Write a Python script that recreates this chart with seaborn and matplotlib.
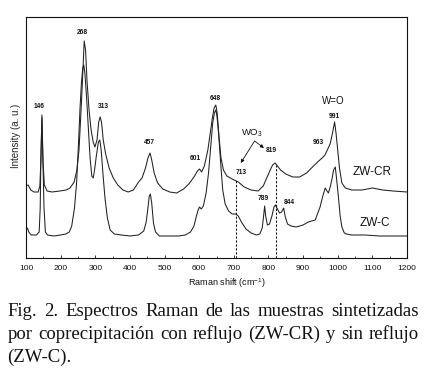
import numpy as np
import pandas as pd
import matplotlib
matplotlib.use("Agg")
import matplotlib.pyplot as plt
import seaborn as sns

# ---------------- data ----------------
cr_wn = [100, 106, 114, 123, 135, 140, 143, 146, 149, 153, 161, 175, 198, 216, 227, 239, 247, 253,
         259, 264, 268, 272, 276, 282, 288, 294, 299, 305, 310, 314, 318, 323, 330, 340, 352, 365,
         380, 395, 410, 425, 435, 445, 452, 458, 463, 470, 480, 495, 515, 535, 555, 570, 585, 595,
         601, 607, 615, 625, 632, 638, 643, 648, 652, 657, 663, 670, 680, 695, 713, 730, 750, 770,
         785, 795, 805, 812, 819, 826, 835, 850, 870, 890, 910, 930, 945, 955, 963, 970, 978, 985,
         991, 995, 1000, 1005, 1012, 1022, 1040, 1070, 1100, 1130, 1160, 1200]
cr_int = [72, 73, 68, 66, 66, 72, 98, 143, 98, 73, 67, 66, 67, 68, 70, 76, 88, 108,
          148, 185, 217, 208, 178, 148, 128, 116, 111, 118, 136, 141, 136, 118, 104, 90, 80, 73,
          68, 66, 68, 76, 80, 90, 100, 105, 98, 85, 75, 69, 66, 65, 69, 74, 81, 87,
          89, 86, 92, 108, 125, 140, 150, 153, 145, 122, 100, 88, 82, 79, 76, 71, 68, 67,
          72, 80, 88, 93, 95, 92, 88, 84, 81, 81, 85, 92, 97, 100, 103, 108, 114, 125,
          136, 125, 108, 90, 75, 70, 68, 68, 70, 68, 67, 66]

c_wn = [100, 104, 108, 115, 130, 138, 141, 143, 146, 149, 152, 156, 162, 180, 200, 215, 225, 232,
        240, 246, 251, 256, 260, 264, 267, 270, 275, 280, 285, 290, 294, 298, 303, 309, 313, 317,
        322, 328, 335, 343, 355, 375, 400, 425, 440, 447, 452, 456, 459, 463, 468, 474, 485, 510,
        540, 560, 575, 585, 592, 597, 601, 606, 612, 620, 627, 633, 639, 644, 648, 651, 656, 662,
        668, 675, 685, 695, 705, 713, 722, 735, 750, 765, 775, 782, 786, 789, 792, 797, 803, 810,
        816, 820, 826, 832, 838, 844, 848, 855, 865, 880, 900, 915, 935, 949, 957, 964, 969, 973,
        979, 984, 988, 993, 997, 1002, 1007, 1012, 1019, 1025, 1040, 1080, 1120, 1160, 1200]
c_int = [28, 30, 26, 23, 23, 26, 50, 100, 140, 95, 50, 26, 23, 22, 23, 24, 26, 32,
         50, 75, 110, 150, 175, 190, 193, 185, 160, 130, 100, 82, 80, 88, 102, 116, 118, 108,
         85, 60, 40, 28, 24, 23, 22, 23, 27, 36, 50, 62, 64, 55, 35, 26, 22, 22,
         22, 23, 26, 32, 42, 48, 51, 49, 52, 65, 85, 110, 135, 145, 148, 143, 125, 95,
         68, 54, 47, 44, 44, 42, 36, 29, 25, 23, 24, 30, 42, 52, 42, 33, 34, 42,
         51, 53, 49, 45, 46, 50, 42, 34, 32, 31, 33, 36, 38, 51, 62, 70, 67, 65,
         72, 80, 88, 91, 78, 61, 42, 31, 25, 24, 23, 23, 22, 22, 22]

peak_labels = ["146", "268", "313", "457", "601", "648", "713", "819", "963", "991", "789", "844"]
dashed_wn = [707, 821]
dashed_top = [78, 93]
xticks = list(range(100, 1201, 100))

# ---------------- style ----------------
sns.set_style("white")
plt.rcParams["font.family"] = ["Liberation Sans", "DejaVu Sans"]
plt.rcParams["mathtext.fontset"] = "custom"
plt.rcParams["mathtext.rm"] = "Liberation Sans"
plt.rcParams["mathtext.it"] = "Liberation Sans"

W, H = 426, 374
fig = plt.figure(figsize=(W / 100, H / 100), dpi=100)
ax = fig.add_axes([26 / W, (H - 258) / H, 381 / W, 241 / H])

df = pd.concat([
    pd.DataFrame({"wn": cr_wn, "I": cr_int, "sample": "ZW-CR"}),
    pd.DataFrame({"wn": c_wn, "I": c_int, "sample": "ZW-C"}),
])
line_col = "#202020"
sns.lineplot(data=df, x="wn", y="I", units="sample", estimator=None, sort=False,
             color=line_col, linewidth=0.75, ax=ax, legend=False)

for xw, top in zip(dashed_wn, dashed_top):
    ax.plot([xw, xw], [0, top], ls=(0, (2.2, 1.6)), color="#111111", lw=0.75)

ax.set_xlim(100, 1200)
ax.set_ylim(0, 241)
ax.set_xticks(xticks)
ax.set_xticks(range(150, 1200, 100), minor=True)
ax.set_yticks([])
ax.tick_params(axis="x", which="major", direction="in", length=2.2, width=0.6,
               labelsize=6, pad=5, colors="#111111", bottom=True)
ax.tick_params(axis="x", which="minor", direction="in", length=1.6, width=0.6, bottom=True)
for s in ax.spines.values():
    s.set_linewidth(0.8)
    s.set_color("#111111")

ax.set_xlabel("Raman shift (cm$^{-1}$)", fontsize=6.5, color="#111111")
ax.xaxis.set_label_coords(0.527, -0.075)
ax.set_ylabel("Intensity (a. u.)", fontsize=7, color="#222222")
ax.yaxis.set_label_coords(-0.013, 0.506)

# peak labels
lab_pos = [(137, 151), (264, 226), (325, 151), (456, 115), (589, 100), (647, 160),
           (721, 85), (809, 107), (944, 115), (989, 142), (784, 60), (861, 56)]
for txt, (xx, yy) in zip(peak_labels, lab_pos):
    ax.text(xx, yy, txt, fontsize=4.8, ha="center", va="center", color="#111111",
            fontweight="bold")

ax.text(988, 157, "W=O", fontsize=7, ha="center", va="center", color="#111111")
ax.text(752, 125, "WO$_3$", fontsize=6.8, ha="center", va="center", color="#111111")
ax.annotate("", xy=(720, 95), xytext=(760, 117),
            arrowprops=dict(arrowstyle="-|>", lw=0.6, color="#111111", mutation_scale=5,
                            shrinkA=0, shrinkB=0))
ax.annotate("", xy=(787, 110), xytext=(760, 117),
            arrowprops=dict(arrowstyle="-|>", lw=0.6, color="#111111", mutation_scale=5,
                            shrinkA=0, shrinkB=0))
ax.text(1099, 86, "ZW-CR", fontsize=8.5, ha="center", va="center", color="#111111")
ax.text(1107, 35, "ZW-C", fontsize=8.5, ha="center", va="center", color="#111111")

# caption (justified)
cap_lines = ["Fig. 2. Espectros Raman de las muestras sintetizadas",
             "por coprecipitación con reflujo (ZW-CR) y sin reflujo",
             "(ZW-C)."]
cap_base = [316, 339, 362]
cap_fs = 13.5
renderer = fig.canvas.get_renderer()
x0, x1 = 7.5, 419
for k, (line, yb) in enumerate(zip(cap_lines, cap_base)):
    words = line.split(" ")
    ts = [fig.text(0, (H - yb) / H, w, fontsize=cap_fs, family="Liberation Serif",
                   va="baseline", ha="left", color="#111111") for w in words]
    widths = [t.get_window_extent(renderer).width for t in ts]
    if k < len(cap_lines) - 1 and len(words) > 1:
        gap = (x1 - x0 - sum(widths)) / (len(words) - 1)
    else:
        gap = cap_fs * 100 / 72 * 0.25
    x = x0
    for t, w in zip(ts, widths):
        t.set_x(x / W)
        x += w + gap

fig.savefig("out.png", dpi=100)
